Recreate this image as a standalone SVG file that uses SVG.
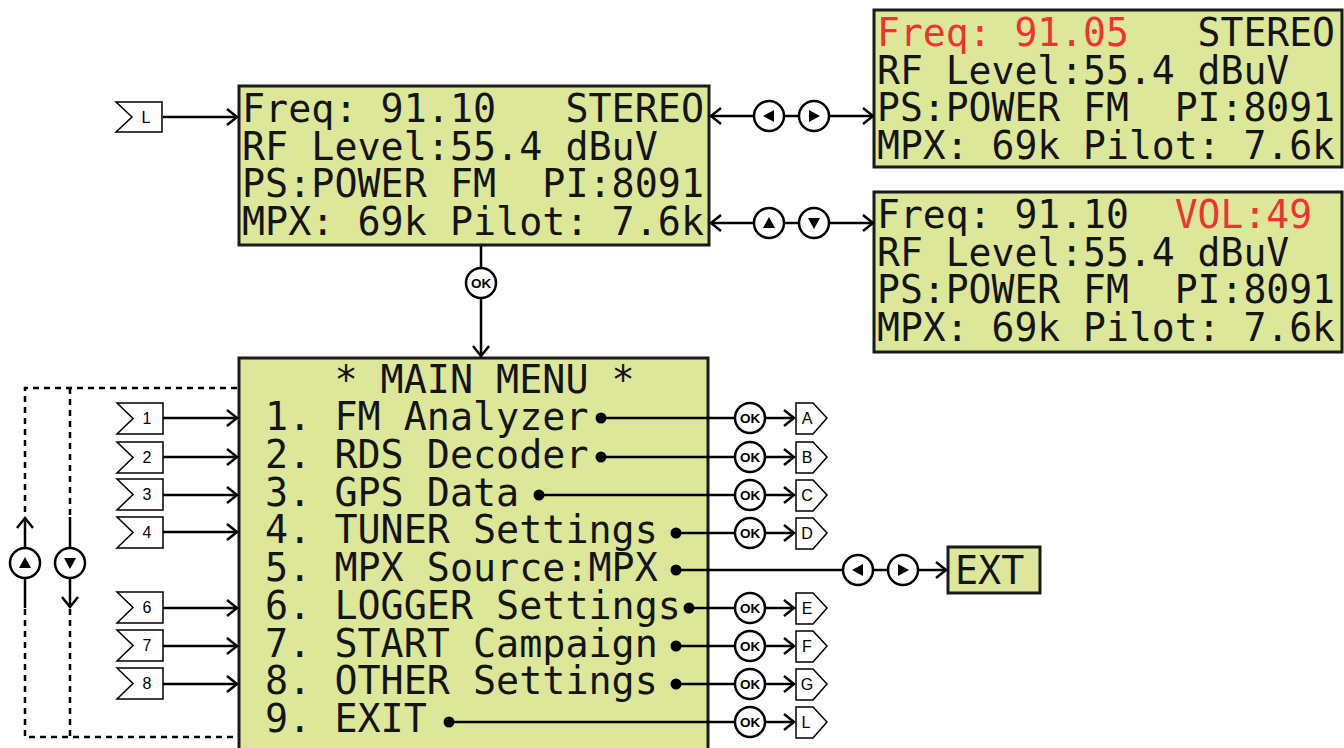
<svg xmlns="http://www.w3.org/2000/svg" width="1344" height="748" viewBox="0 0 1344 748">
<defs>
<style>
.lcd{fill:#dde79a;stroke:#1a1a1a;stroke-width:3}
.t{font-family:"DejaVu Sans Mono","Liberation Mono",monospace;font-size:39px;fill:#151515;white-space:pre}
.r{fill:#f03232}
.ln{fill:none;stroke:#000;stroke-width:2.5}
.dash{fill:none;stroke:#000;stroke-width:2.5;stroke-dasharray:6 5}
.btn{fill:#fff;stroke:#000;stroke-width:2.5}
.ok{font-family:"Liberation Sans",Arial,sans-serif;font-weight:bold;font-size:13.5px;fill:#000;text-anchor:middle}
.tag{fill:#fff;stroke:#000;stroke-width:1.5}
.tl{font-family:"Liberation Sans",Arial,sans-serif;font-size:16px;fill:#000;text-anchor:middle}
.dot{fill:#000}
</style>
<marker id="a" viewBox="-12 -10 14 20" refX="0" refY="0" markerWidth="14" markerHeight="20" markerUnits="userSpaceOnUse" orient="auto-start-reverse"><path d="M-10,-8 L0,0 L-10,8" fill="none" stroke="#000" stroke-width="2.5"/></marker>
</defs>
<rect width="1344" height="748" fill="#fff"/>

<g id="lcd-main">
<rect class="lcd" x="239" y="86" width="470" height="159"/>
<text class="t" x="242" y="122" textLength="462" lengthAdjust="spacingAndGlyphs">Freq: 91.10   STEREO</text>
<text class="t" x="242" y="159.7" textLength="415.8" lengthAdjust="spacingAndGlyphs">RF Level:55.4 dBuV</text>
<text class="t" x="242" y="197.4" textLength="462" lengthAdjust="spacingAndGlyphs">PS:POWER FM  PI:8091</text>
<text class="t" x="242" y="235" textLength="462" lengthAdjust="spacingAndGlyphs">MPX: 69k Pilot: 7.6k</text>
</g>

<g id="lcd-freq">
<rect class="lcd" x="874" y="10" width="468" height="157"/>
<text class="t" x="877" y="46" textLength="458" lengthAdjust="spacingAndGlyphs"><tspan class="r">Freq: 91.05</tspan>   STEREO</text>
<text class="t" x="877" y="83.5" textLength="412.2" lengthAdjust="spacingAndGlyphs">RF Level:55.4 dBuV</text>
<text class="t" x="877" y="121" textLength="458" lengthAdjust="spacingAndGlyphs">PS:POWER FM  PI:8091</text>
<text class="t" x="877" y="158.5" textLength="458" lengthAdjust="spacingAndGlyphs">MPX: 69k Pilot: 7.6k</text>
</g>

<g id="lcd-vol">
<rect class="lcd" x="874" y="192" width="468" height="160"/>
<text class="t" x="877" y="228" textLength="435.1" lengthAdjust="spacingAndGlyphs">Freq: 91.10  <tspan class="r">VOL:49</tspan></text>
<text class="t" x="877" y="265.7" textLength="412.2" lengthAdjust="spacingAndGlyphs">RF Level:55.4 dBuV</text>
<text class="t" x="877" y="303.4" textLength="458" lengthAdjust="spacingAndGlyphs">PS:POWER FM  PI:8091</text>
<text class="t" x="877" y="341" textLength="458" lengthAdjust="spacingAndGlyphs">MPX: 69k Pilot: 7.6k</text>
</g>

<g id="lcd-menu">
<rect class="lcd" x="239" y="358" width="469" height="395"/>
<text class="t" x="334.4" y="392.5" textLength="300.3" lengthAdjust="spacingAndGlyphs">* MAIN MENU *</text>
<text class="t" x="265.1" y="430.2" textLength="323.4" lengthAdjust="spacingAndGlyphs">1. FM Analyzer</text>
<text class="t" x="265.1" y="468" textLength="323.4" lengthAdjust="spacingAndGlyphs">2. RDS Decoder</text>
<text class="t" x="265.1" y="505.7" textLength="254.1" lengthAdjust="spacingAndGlyphs">3. GPS Data</text>
<text class="t" x="265.1" y="543.4" textLength="392.7" lengthAdjust="spacingAndGlyphs">4. TUNER Settings</text>
<text class="t" x="265.1" y="581.2" textLength="392.7" lengthAdjust="spacingAndGlyphs">5. MPX Source:MPX</text>
<text class="t" x="265.1" y="618.9" textLength="415.8" lengthAdjust="spacingAndGlyphs">6. LOGGER Settings</text>
<text class="t" x="265.1" y="656.6" textLength="392.7" lengthAdjust="spacingAndGlyphs">7. START Campaign</text>
<text class="t" x="265.1" y="694.4" textLength="392.7" lengthAdjust="spacingAndGlyphs">8. OTHER Settings</text>
<text class="t" x="265.1" y="732.1" textLength="161.7" lengthAdjust="spacingAndGlyphs">9. EXIT</text>
</g>

<g id="lcd-ext">
<rect class="lcd" x="948" y="547" width="92" height="46"/>
<text class="t" x="955" y="584" textLength="69.3" lengthAdjust="spacingAndGlyphs">EXT</text>
</g>

<g id="connectors">
<line class="ln" x1="163" y1="117" x2="237" y2="117" marker-end="url(#a)"/>
<line class="ln" x1="711" y1="116" x2="873" y2="116" marker-start="url(#a)" marker-end="url(#a)"/>
<line class="ln" x1="711" y1="223" x2="873" y2="223" marker-start="url(#a)" marker-end="url(#a)"/>
<line class="ln" x1="481" y1="246" x2="481" y2="356" marker-end="url(#a)"/>
<line class="ln" x1="163" y1="418" x2="237" y2="418" marker-end="url(#a)"/>
<line class="ln" x1="163" y1="457" x2="237" y2="457" marker-end="url(#a)"/>
<line class="ln" x1="163" y1="495" x2="237" y2="495" marker-end="url(#a)"/>
<line class="ln" x1="163" y1="532" x2="237" y2="532" marker-end="url(#a)"/>
<line class="ln" x1="163" y1="608" x2="237" y2="608" marker-end="url(#a)"/>
<line class="ln" x1="163" y1="646" x2="237" y2="646" marker-end="url(#a)"/>
<line class="ln" x1="163" y1="684" x2="237" y2="684" marker-end="url(#a)"/>
<path class="dash" d="M237,388 H25 V515"/>
<path class="dash" d="M25,609 V737 H237"/>
<path class="dash" d="M70,388 V515"/>
<path class="dash" d="M70,609 V737"/>
<line class="ln" x1="25" y1="608" x2="25" y2="518" marker-end="url(#a)"/>
<line class="ln" x1="70" y1="517" x2="70" y2="607" marker-end="url(#a)"/>
<line class="ln" x1="601" y1="418" x2="735" y2="418"/>
<line class="ln" x1="601" y1="457" x2="735" y2="457"/>
<line class="ln" x1="539" y1="495" x2="735" y2="495"/>
<line class="ln" x1="676" y1="533" x2="735" y2="533"/>
<line class="ln" x1="676" y1="570" x2="843" y2="570"/>
<line class="ln" x1="873" y1="570" x2="888" y2="570"/>
<line class="ln" x1="918" y1="570" x2="946" y2="570" marker-end="url(#a)"/>
<line class="ln" x1="689" y1="608" x2="735" y2="608"/>
<line class="ln" x1="676" y1="646" x2="735" y2="646"/>
<line class="ln" x1="676" y1="684" x2="735" y2="684"/>
<line class="ln" x1="449" y1="722" x2="735" y2="722"/>
<line class="ln" x1="765" y1="418" x2="794" y2="418" marker-end="url(#a)"/>
<line class="ln" x1="765" y1="457" x2="794" y2="457" marker-end="url(#a)"/>
<line class="ln" x1="765" y1="495" x2="794" y2="495" marker-end="url(#a)"/>
<line class="ln" x1="765" y1="533" x2="794" y2="533" marker-end="url(#a)"/>
<line class="ln" x1="765" y1="608" x2="794" y2="608" marker-end="url(#a)"/>
<line class="ln" x1="765" y1="646" x2="794" y2="646" marker-end="url(#a)"/>
<line class="ln" x1="765" y1="684" x2="794" y2="684" marker-end="url(#a)"/>
<line class="ln" x1="765" y1="722" x2="794" y2="722" marker-end="url(#a)"/>
<circle class="dot" cx="601" cy="418" r="5.5"/>
<circle class="dot" cx="601" cy="457" r="5.5"/>
<circle class="dot" cx="539" cy="495" r="5.5"/>
<circle class="dot" cx="676" cy="533" r="5.5"/>
<circle class="dot" cx="676" cy="570" r="5.5"/>
<circle class="dot" cx="689" cy="608" r="5.5"/>
<circle class="dot" cx="676" cy="646" r="5.5"/>
<circle class="dot" cx="676" cy="684" r="5.5"/>
<circle class="dot" cx="449" cy="722" r="5.5"/>
</g>

<g id="buttons-top">
<circle class="btn" cx="769" cy="116" r="15"/><path d="M763,116 L774,110 L774,122 Z"/>
<circle class="btn" cx="814" cy="116" r="15"/><path d="M820,116 L809,110 L809,122 Z"/>
<circle class="btn" cx="769" cy="223" r="15"/><path d="M769,217 L775,228 L763,228 Z"/>
<circle class="btn" cx="814" cy="223" r="15"/><path d="M814,229 L808,218 L820,218 Z"/>
<circle class="btn" cx="481" cy="283" r="15"/><text class="ok" x="481" y="288">OK</text>
</g>

<g id="buttons-side">
<circle class="btn" cx="25" cy="563" r="15"/><path d="M25,557 L31,568 L19,568 Z"/>
<circle class="btn" cx="70" cy="563" r="15"/><path d="M70,569 L64,558 L76,558 Z"/>
<circle class="btn" cx="858" cy="570" r="15"/><path d="M852,570 L863,564 L863,576 Z"/>
<circle class="btn" cx="903" cy="570" r="15"/><path d="M909,570 L898,564 L898,576 Z"/>
</g>

<g id="ok-buttons">
<circle class="btn" cx="750" cy="418" r="15"/><text class="ok" x="750" y="423">OK</text>
<circle class="btn" cx="750" cy="457" r="15"/><text class="ok" x="750" y="462">OK</text>
<circle class="btn" cx="750" cy="495" r="15"/><text class="ok" x="750" y="500">OK</text>
<circle class="btn" cx="750" cy="533" r="15"/><text class="ok" x="750" y="538">OK</text>
<circle class="btn" cx="750" cy="608" r="15"/><text class="ok" x="750" y="613">OK</text>
<circle class="btn" cx="750" cy="646" r="15"/><text class="ok" x="750" y="651">OK</text>
<circle class="btn" cx="750" cy="684" r="15"/><text class="ok" x="750" y="689">OK</text>
<circle class="btn" cx="750" cy="722" r="15"/><text class="ok" x="750" y="727">OK</text>
</g>

<g id="tags-in">
<path class="tag" d="M116,102 H162 V132 H116 L132,117 Z"/><text class="tl" x="146" y="123">L</text>
<path class="tag" d="M117,403 H163 V434 H117 L133,418.5 Z"/><text class="tl" x="147" y="424">1</text>
<path class="tag" d="M117,442 H163 V473 H117 L133,457.5 Z"/><text class="tl" x="147" y="463">2</text>
<path class="tag" d="M117,479 H163 V510 H117 L133,494.5 Z"/><text class="tl" x="147" y="500">3</text>
<path class="tag" d="M117,517 H163 V548 H117 L133,532.5 Z"/><text class="tl" x="147" y="538">4</text>
<path class="tag" d="M117,592 H163 V623 H117 L133,607.5 Z"/><text class="tl" x="147" y="613">6</text>
<path class="tag" d="M117,630 H163 V661 H117 L133,645.5 Z"/><text class="tl" x="147" y="651">7</text>
<path class="tag" d="M117,668 H163 V699 H117 L133,683.5 Z"/><text class="tl" x="147" y="689">8</text>
</g>

<g id="tags-out">
<path class="tag" d="M796,403 H813 L827,418 L813,434 H796 Z"/><text class="tl" x="807" y="424">A</text>
<path class="tag" d="M796,442 H813 L827,457 L813,473 H796 Z"/><text class="tl" x="807" y="463">B</text>
<path class="tag" d="M796,480 H813 L827,495 L813,511 H796 Z"/><text class="tl" x="807" y="501">C</text>
<path class="tag" d="M796,518 H813 L827,533 L813,549 H796 Z"/><text class="tl" x="807" y="539">D</text>
<path class="tag" d="M796,593 H813 L827,608 L813,624 H796 Z"/><text class="tl" x="807" y="614">E</text>
<path class="tag" d="M796,631 H813 L827,646 L813,662 H796 Z"/><text class="tl" x="807" y="652">F</text>
<path class="tag" d="M796,669 H813 L827,684 L813,700 H796 Z"/><text class="tl" x="807" y="690">G</text>
<path class="tag" d="M796,707 H813 L827,722 L813,738 H796 Z"/><text class="tl" x="806" y="728">L</text>
</g>
</svg>
